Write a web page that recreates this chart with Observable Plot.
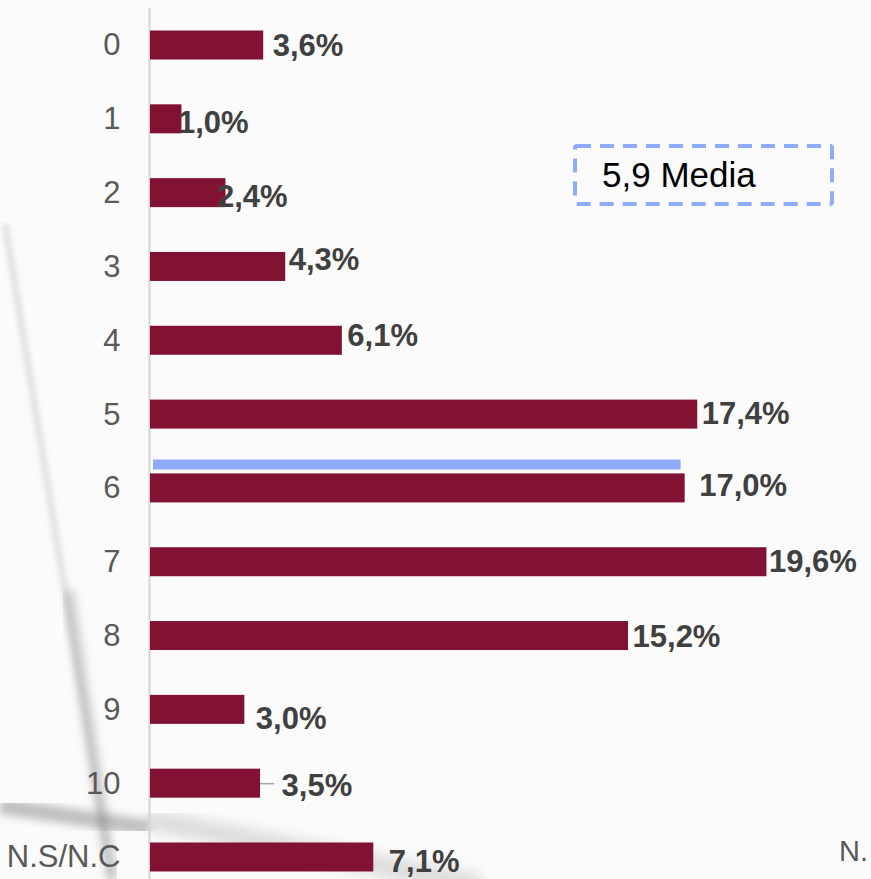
<!DOCTYPE html>
<html>
<head>
<meta charset="utf-8">
<script src="https://cdn.jsdelivr.net/npm/d3@7"></script>
<script src="https://cdn.jsdelivr.net/npm/@observablehq/plot@0.6"></script>
<style>
  html, body { margin: 0; padding: 0; background: #fbfbfb; overflow: hidden; }
  #wrap { position: relative; width: 871px; height: 879px; overflow: hidden; font-family: "Liberation Sans", Arial, sans-serif; }
  #bg { position: absolute; left: 0; top: 0; }
  #chart { position: absolute; left: 0; top: 0; }
  #overlay { position: absolute; left: 0; top: 0; pointer-events: none; }
</style>
</head>
<body>
<div id="wrap">
  <svg id="bg" width="871" height="879">
    <defs>
      <filter id="blur8"><feGaussianBlur stdDeviation="7"/></filter>
      <filter id="blur4"><feGaussianBlur stdDeviation="4"/></filter>
      <filter id="blur2"><feGaussianBlur stdDeviation="2.5"/></filter>
    </defs>
    <line x1="5" y1="224" x2="112" y2="879" stroke="#c4c4c4" stroke-width="7" opacity="0.45" filter="url(#blur2)"/>
    <line x1="68" y1="590" x2="112" y2="879" stroke="#a8a8a8" stroke-width="12" opacity="0.5" filter="url(#blur4)"/>
    <line x1="0" y1="806" x2="150" y2="828" stroke="#8f8f8f" stroke-width="16" opacity="0.55" filter="url(#blur4)"/>
    <line x1="150" y1="820" x2="480" y2="885" stroke="#b4b4b4" stroke-width="20" opacity="0.45" filter="url(#blur8)"/>
  </svg>
  <div id="chart"></div>
  <svg id="overlay" width="871" height="879"></svg>
</div>
<script>
// ---- data ----
const categories = ["0", "1", "2", "3", "4", "5", "6", "7", "8", "9", "10", "N.S/N.C"];
const values = [3.6, 1.0, 2.4, 4.3, 6.1, 17.4, 17.0, 19.6, 15.2, 3.0, 3.5, 7.1];
const meanValue = 5.9;
const meanText = "Media";
const meanCategory = "6";
const leaderCategories = ["10"];
const cutLabel = "N.";

// label nudges (layout only)
const labelDx = [9, -4, -9, 3, 5, 4, 14, 2, 4, 11, 21, 15];
const labelDy = [1, 4, 4, -7, -5, -1, -2, 0, 1, 9, 2, 5];

const fmt = v => d3.format(".1f")(v).replace(".", ",") + "%";
const rows = categories.map((c, i) => ({category: c, value: values[i], label: fmt(values[i])}));

const barColor = "#821234";
const meanColor = "#8fabfb";

const labelMarks = rows.map((d, i) =>
  Plot.text([d], {
    x: "value", y: "category", text: "label",
    textAnchor: "start", dx: labelDx[i], dy: labelDy[i],
    fontSize: 31, fontWeight: "bold", fill: "#404040"
  })
);

const meanRow = rows.find(d => d.category === meanCategory);

const chart = Plot.plot({
  width: 871,
  height: 879,
  marginLeft: 150,
  marginRight: 92,
  marginTop: 30.5,
  marginBottom: 7.5,
  style: {background: "transparent", fontFamily: "'Liberation Sans', Arial, sans-serif", fontSize: "31px", color: "#595959", overflow: "visible"},
  x: {domain: [0, 20], axis: null},
  y: {domain: categories, paddingInner: 0.607, paddingOuter: 0, round: false, tickSize: 0, tickPadding: 30, label: null},
  marks: [
    Plot.ruleX([0], {stroke: "#d4d4d4", strokeWidth: 2, dx: -1, insetTop: -23, insetBottom: -10}),
    Plot.barX(rows, {x: "value", y: "category", fill: barColor}),
    Plot.ruleY([meanRow], {y: "category", x1: 0, x2: "value", dy: -24, stroke: meanColor, strokeWidth: 10, insetLeft: 3, insetRight: 4}),
    Plot.ruleY(rows.filter(d => leaderCategories.includes(d.category)), {y: "category", x1: "value", x2: "value", insetRight: -14, stroke: "#a6a6a6", strokeWidth: 1.5}),
    ...labelMarks
  ]
});
document.getElementById("chart").appendChild(chart);

// ---- mean annotation box (legend-like overlay) ----
const ov = d3.select("#overlay");
ov.append("rect")
  .attr("x", 575).attr("y", 146).attr("width", 257).attr("height", 58)
  .attr("rx", 2)
  .attr("fill", "none").attr("stroke", meanColor).attr("stroke-width", 4)
  .attr("stroke-dasharray", "14 9");
ov.append("text")
  .attr("x", 602).attr("y", 175).attr("dy", "0.35em")
  .attr("font-family", "'Liberation Sans', Arial, sans-serif")
  .attr("font-size", 35).attr("fill", "#000")
  .text(d3.format(".1f")(meanValue).replace(".", ",") + " " + meanText);
ov.append("text")
  .attr("x", 839).attr("y", 851).attr("dy", "0.35em")
  .attr("font-family", "'Liberation Sans', Arial, sans-serif")
  .attr("font-size", 29).attr("fill", "#595959")
  .text(cutLabel);
</script>
</body>
</html>
